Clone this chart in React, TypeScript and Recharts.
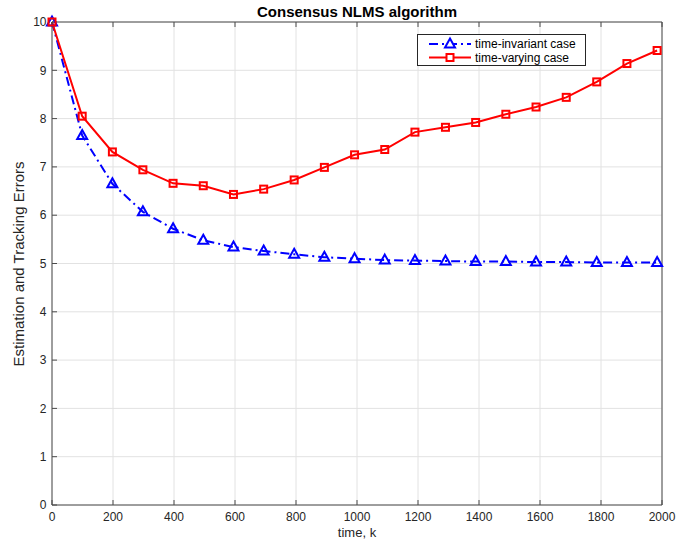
import React from 'react';
import { LineChart, Line, XAxis, YAxis, CartesianGrid } from 'recharts';

const timeSteps = [0, 99, 198, 298, 397, 496, 595, 694, 794, 893, 992, 1091, 1190, 1290, 1389, 1488, 1587, 1686, 1786, 1885, 1984];
const timeInvariantErrors = [10, 7.65, 6.65, 6.07, 5.72, 5.48, 5.34, 5.26, 5.19, 5.13, 5.1, 5.07, 5.06, 5.05, 5.04, 5.04, 5.03, 5.03, 5.02, 5.02, 5.02];
const timeVaryingErrors = [10, 8.05, 7.31, 6.94, 6.66, 6.61, 6.43, 6.54, 6.73, 6.99, 7.25, 7.36, 7.72, 7.82, 7.92, 8.09, 8.24, 8.44, 8.76, 9.14, 9.41];
const xTicks = [0, 200, 400, 600, 800, 1000, 1200, 1400, 1600, 1800, 2000];
const yTicks = [0, 1, 2, 3, 4, 5, 6, 7, 8, 9, 10];
const seriesNames = ['time-invariant case', 'time-varying case'];
const chartTitle = 'Consensus NLMS algorithm';
const xLabel = 'time, k';
const yLabel = 'Estimation and Tracking Errors';

const data = timeSteps.map((k, i) => ({
  k,
  invariant: timeInvariantErrors[i],
  varying: timeVaryingErrors[i],
}));

const BLUE = '#0000ff';
const RED = '#ff0000';
const AXIS = '#4a4a4a';
const TEXT = '#262626';
const FONT = '"Liberation Sans", Arial, Helvetica, sans-serif';
const DASH = '9 4 2 4';

const triPath = (cx: number, cy: number) =>
  `M${cx},${cy - 5.5}L${cx + 5},${cy + 3.5}L${cx - 5},${cy + 3.5}Z`;

const TriangleDot = (p: any) => {
  const { cx, cy, index } = p;
  if (cx == null || cy == null) return <g key={`t${index}`} />;
  return (
    <path key={`t${index}`} d={triPath(cx, cy)} fill="none" stroke={BLUE} strokeWidth={2} />
  );
};

const SquareDot = (p: any) => {
  const { cx, cy, index } = p;
  if (cx == null || cy == null) return <g key={`s${index}`} />;
  return (
    <rect key={`s${index}`} x={cx - 3.5} y={cy - 3.5} width={7} height={7} fill="none" stroke={RED} strokeWidth={2} />
  );
};

const EmptyTick = (p: any) => <g key={`e${p.index}`} />;

const LegendBox = () => (
  <div
    style={{
      position: 'absolute',
      left: 417,
      top: 34,
      width: 167,
      height: 30,
      border: `1px solid ${TEXT}`,
      background: '#fff',
      fontFamily: FONT,
      fontSize: 12,
      color: '#000',
    }}
  >
    <svg width={60} height={30} style={{ position: 'absolute', left: 0, top: 0 }}>
      <line x1={11} y1={9} x2={53} y2={9} stroke={BLUE} strokeWidth={2} strokeDasharray={DASH} />
      <path d={triPath(32, 9)} fill="#fff" stroke={BLUE} strokeWidth={2} />
      <line x1={11} y1={22.5} x2={53} y2={22.5} stroke={RED} strokeWidth={2} />
      <rect x={28.5} y={19} width={7} height={7} fill="#fff" stroke={RED} strokeWidth={2} />
    </svg>
    <div style={{ position: 'absolute', left: 57, top: 2, lineHeight: '14px', whiteSpace: 'nowrap' }}>{seriesNames[0]}</div>
    <div style={{ position: 'absolute', left: 57, top: 15.5, lineHeight: '14px', whiteSpace: 'nowrap' }}>{seriesNames[1]}</div>
  </div>
);

export default function App() {
  const tickStyle = { fill: TEXT, fontSize: 12, fontFamily: FONT };
  return (
    <div style={{ position: 'absolute', left: 0, top: 0, width: 676, height: 543, background: '#fff', fontFamily: FONT }}>
      <LineChart
        width={676}
        height={543}
        data={data}
        margin={{ top: 21, right: 13, bottom: 37, left: 51 }}
      >
        <CartesianGrid stroke="#e2e2e2" strokeWidth={1} />
        <XAxis
          dataKey="k"
          type="number"
          domain={[0, 2000]}
          ticks={xTicks}
          height={1}
          tickSize={-5}
          tickMargin={12}
          tick={tickStyle}
          axisLine={{ stroke: AXIS }}
          tickLine={{ stroke: AXIS }}
          interval={0}
        />
        <XAxis
          xAxisId="top"
          orientation="top"
          dataKey="k"
          type="number"
          domain={[0, 2000]}
          ticks={xTicks}
          height={1}
          tickSize={-5}
          tick={EmptyTick}
          axisLine={{ stroke: AXIS }}
          tickLine={{ stroke: AXIS }}
          interval={0}
        />
        <YAxis
          type="number"
          domain={[0, 10]}
          ticks={yTicks}
          width={1}
          tickSize={-5}
          tickMargin={10.5}
          tick={tickStyle}
          axisLine={{ stroke: AXIS }}
          tickLine={{ stroke: AXIS }}
          interval={0}
        />
        <YAxis
          yAxisId="right"
          orientation="right"
          type="number"
          domain={[0, 10]}
          ticks={yTicks}
          width={1}
          tickSize={-5}
          tick={EmptyTick}
          axisLine={{ stroke: AXIS }}
          tickLine={{ stroke: AXIS }}
          interval={0}
        />
        <Line
          type="linear"
          dataKey="invariant"
          name={seriesNames[0]}
          stroke={BLUE}
          strokeWidth={2}
          strokeDasharray={DASH}
          dot={TriangleDot}
          activeDot={false}
          isAnimationActive={false}
        />
        <Line
          type="linear"
          dataKey="varying"
          name={seriesNames[1]}
          stroke={RED}
          strokeWidth={2}
          dot={SquareDot}
          activeDot={false}
          isAnimationActive={false}
        />
      </LineChart>
      <LegendBox />
      <div
        style={{
          position: 'absolute',
          left: 0,
          width: 714,
          top: 3,
          textAlign: 'center',
          fontWeight: 'bold',
          fontSize: 15,
          lineHeight: '18px',
          color: '#000',
          whiteSpace: 'nowrap',
        }}
      >
        {chartTitle}
      </div>
      <div
        style={{
          position: 'absolute',
          left: 0,
          width: 714,
          top: 525,
          textAlign: 'center',
          fontSize: 13,
          lineHeight: '16px',
          color: TEXT,
          whiteSpace: 'nowrap',
        }}
      >
        {xLabel}
      </div>
      <div
        style={{
          position: 'absolute',
          left: 19 - 150,
          top: 263.5 - 9,
          width: 300,
          height: 18,
          lineHeight: '18px',
          textAlign: 'center',
          fontSize: 15,
          color: TEXT,
          whiteSpace: 'nowrap',
          transform: 'rotate(-90deg)',
          transformOrigin: '150px 9px',
        }}
      >
        {yLabel}
      </div>
    </div>
  );
}
